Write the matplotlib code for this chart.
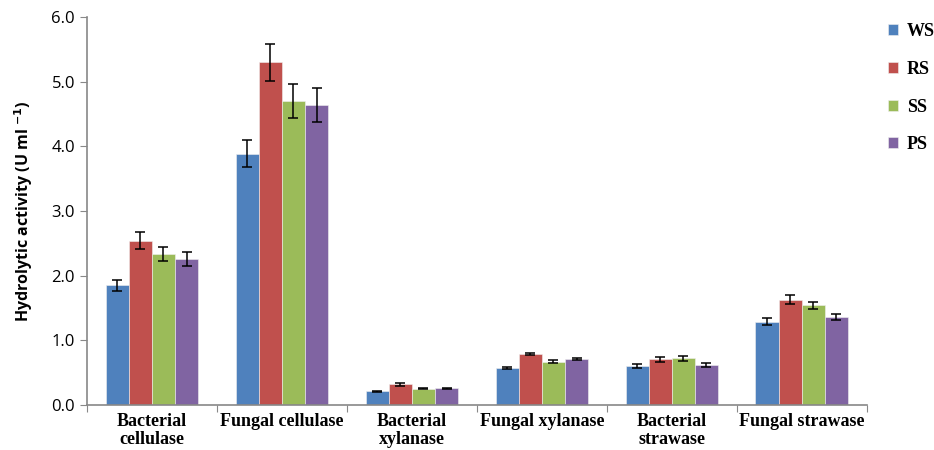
import matplotlib
matplotlib.use("Agg")
import matplotlib.pyplot as plt
import numpy as np

categories = ["Bacterial\ncellulase", "Fungal cellulase", "Bacterial\nxylanase",
              "Fungal xylanase", "Bacterial\nstrawase", "Fungal strawase"]
series = ["WS", "RS", "SS", "PS"]

ws = [1.85, 3.89, 0.21, 0.57, 0.60, 1.29]
rs = [2.54, 5.30, 0.32, 0.79, 0.71, 1.63]
ss = [2.33, 4.70, 0.25, 0.67, 0.72, 1.54]
ps = [2.26, 4.64, 0.26, 0.71, 0.62, 1.36]

ws_err = [0.08, 0.21, 0.01, 0.02, 0.03, 0.05]
rs_err = [0.13, 0.29, 0.02, 0.02, 0.04, 0.07]
ss_err = [0.11, 0.26, 0.01, 0.02, 0.04, 0.06]
ps_err = [0.11, 0.26, 0.01, 0.02, 0.03, 0.05]

colors = ["#4F81BD", "#C0504D", "#9BBB59", "#8064A2"]

fig = plt.figure(figsize=(9.34, 4.5), dpi=100)
ax = fig.add_axes([0.093, 0.1, 0.835, 0.862])

x = np.arange(len(categories))
width = 0.178
vals = [ws, rs, ss, ps]
errs = [ws_err, rs_err, ss_err, ps_err]
handles = []
for i, (v, e) in enumerate(zip(vals, errs)):
    b = ax.bar(x + (i - 1.5) * width, v, width, color=colors[i], label=series[i],
               yerr=e, capsize=3.3, error_kw=dict(elinewidth=1.1, capthick=1.1, ecolor="black"),
               edgecolor="#f0f0f0", linewidth=0.4)
    handles.append(b)

ax.set_xlim(-0.5, len(categories) - 0.5)
ax.set_ylim(0, 6)
ax.set_yticks(np.arange(0, 6.1, 1.0))
ax.set_yticklabels([f"{t:.1f}" for t in np.arange(0, 6.1, 1.0)], fontsize=12, family="Open Sans")

ax.set_xticks(np.arange(-0.5, len(categories), 1.0))
ax.set_xticklabels([])
ax.set_xticks(x, minor=True)
ax.set_xticklabels(categories, minor=True, fontsize=13, fontweight="bold",
                   family="Liberation Serif", linespacing=1.05)
ax.tick_params(axis="x", which="minor", length=0, pad=6)
ax.tick_params(axis="x", which="major", length=5, direction="out", color="#888888")
ax.tick_params(axis="y", length=5, direction="out", color="#888888")

for s in ["top", "right"]:
    ax.spines[s].set_visible(False)
for s in ["left", "bottom"]:
    ax.spines[s].set_color("#888888")
    ax.spines[s].set_linewidth(1.2)

ax.set_ylabel(r"Hydrolytic activity (U ml $^{\mathbf{-1}}$)", fontsize=11.5,
              fontweight="bold", family="Open Sans", labelpad=12)

fig.legend(handles=handles, labels=series, loc="upper left", bbox_to_anchor=(0.933, 0.985),
           frameon=False, prop=dict(family="Liberation Serif", weight="bold", size=13),
           handlelength=0.55, handleheight=0.55, handletextpad=0.5, labelspacing=1.15)

fig.savefig("out.png", dpi=100)
